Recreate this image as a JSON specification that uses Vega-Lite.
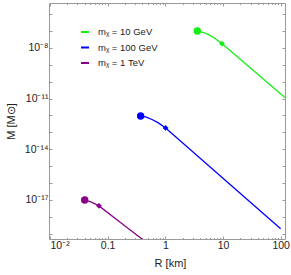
{
  "$schema": "https://vega.github.io/schema/vega-lite/v6.json",
  "width": 236,
  "height": 236,
  "autosize": "none",
  "padding": {"left": 49, "top": 3, "right": 6, "bottom": 36},
  "config": {
    "view": {"stroke": null},
    "font": "Liberation Sans",
    "axis": {
      "grid": false,
      "domainColor": "#9a9a9a",
      "tickColor": "#9a9a9a",
      "tickSize": -3,
      "labelFont": "Liberation Sans",
      "labelFontSize": 10.5,
      "labelColor": "#222222",
      "titleFont": "Liberation Sans",
      "titleFontSize": 11,
      "titleFontWeight": "normal",
      "titleColor": "#222222"
    },
    "legend": {
      "labelFont": "Liberation Sans",
      "labelFontSize": 9.5,
      "labelColor": "#222222"
    }
  },
  "data": {
    "values": [
      {"series": "10 GeV", "kind": "line", "R": 3.589, "M": 9.77e-8},
      {"series": "10 GeV", "kind": "line", "R": 4.467, "M": 8.318e-8},
      {"series": "10 GeV", "kind": "line", "R": 5.623, "M": 6.026e-8},
      {"series": "10 GeV", "kind": "line", "R": 7.079, "M": 3.802e-8},
      {"series": "10 GeV", "kind": "line", "R": 9.572, "M": 1.778e-8},
      {"series": "10 GeV", "kind": "line", "R": 118.9, "M": 1.135e-11},
      {"series": "100 GeV", "kind": "line", "R": 0.3733, "M": 9.33e-13},
      {"series": "100 GeV", "kind": "line", "R": 0.4677, "M": 7.94e-13},
      {"series": "100 GeV", "kind": "line", "R": 0.5888, "M": 5.754e-13},
      {"series": "100 GeV", "kind": "line", "R": 0.7586, "M": 3.631e-13},
      {"series": "100 GeV", "kind": "line", "R": 1.012, "M": 1.82e-13},
      {"series": "100 GeV", "kind": "line", "R": 100, "M": 2.0e-19},
      {"series": "1 TeV", "kind": "line", "R": 0.04, "M": 1.0e-17},
      {"series": "1 TeV", "kind": "line", "R": 0.0525, "M": 7.41e-18},
      {"series": "1 TeV", "kind": "line", "R": 0.0708, "M": 4.47e-18},
      {"series": "1 TeV", "kind": "line", "R": 0.1585, "M": 5.37e-19},
      {"series": "1 TeV", "kind": "line", "R": 0.3936, "M": 4.9e-20},
      {"series": "1 TeV", "kind": "line", "R": 0.501, "M": 2.57e-20},
      {"series": "10 GeV", "kind": "dot", "R": 3.589, "M": 9.77e-8},
      {"series": "10 GeV", "kind": "diamond", "R": 9.572, "M": 1.778e-8},
      {"series": "100 GeV", "kind": "dot", "R": 0.3733, "M": 9.33e-13},
      {"series": "100 GeV", "kind": "diamond", "R": 1.012, "M": 1.82e-13},
      {"series": "1 TeV", "kind": "dot", "R": 0.04, "M": 1.0e-17},
      {"series": "1 TeV", "kind": "diamond", "R": 0.0708, "M": 4.47e-18}
    ]
  },
  "layer": [
    {
      "transform": [{"filter": "datum.kind == 'line'"}],
      "mark": {"type": "line", "strokeWidth": 1.3, "clip": true},
      "encoding": {
        "x": {
          "field": "R", "type": "quantitative",
          "scale": {"type": "log", "domain": [0.00962, 118.9], "nice": false},
          "axis": {
            "orient": "bottom",
            "title": "R [km]",
            "values": [0.01, 0.1, 1, 10, 100],
            "labelExpr": "datum.value < 0.05 ? '10⁻²' : datum.value < 0.5 ? '0.1' : datum.value < 5 ? '1' : datum.value < 50 ? '10' : '100'",
            "labelPadding": 4,
            "titleX": 121,
            "titleY": 24,
            "titleBaseline": "middle"
          }
        },
        "y": {
          "field": "M", "type": "quantitative",
          "scale": {"type": "log", "domain": [4.9e-20, 4.47e-6], "nice": false},
          "axis": {
            "orient": "left",
            "title": "M [M⊙]",
            "values": [1e-19, 1e-18, 1e-17, 1e-16, 1e-15, 1e-14, 1e-13, 1e-12, 1e-11, 1e-10, 1e-9, 1e-8, 1e-7, 1e-6],
            "labelExpr": "datum.value > 5e-9 && datum.value < 5e-8 ? '10⁻⁸' : datum.value > 5e-12 && datum.value < 5e-11 ? '10⁻¹¹' : datum.value > 5e-15 && datum.value < 5e-14 ? '10⁻¹⁴' : datum.value > 5e-18 && datum.value < 5e-17 ? '10⁻¹⁷' : ''",
            "labelPadding": 4,
            "titleX": -38,
            "titleBaseline": "middle"
          }
        },
        "color": {
          "field": "series", "type": "nominal",
          "scale": {"domain": ["10 GeV", "100 GeV", "1 TeV"], "range": ["#11ee11", "#0000ff", "#880088"]},
          "legend": {
            "title": null,
            "orient": "none",
            "legendX": 31,
            "legendY": 24,
            "symbolType": "stroke",
            "symbolSize": 64,
            "symbolStrokeWidth": 2,
            "labelOffset": 8,
            "rowPadding": 5.5,
            "labelExpr": "'mᵪ = ' + datum.label"
          }
        }
      }
    },
    {
      "transform": [{"filter": "datum.kind != 'line'"}],
      "mark": {"type": "point", "filled": true, "opacity": 1},
      "encoding": {
        "x": {
          "field": "R", "type": "quantitative",
          "axis": {"orient": "top", "title": null, "labels": false, "values": [0.01, 0.1, 1, 10, 100]}
        },
        "y": {
          "field": "M", "type": "quantitative",
          "axis": {"orient": "right", "title": null, "labels": false,
            "values": [1e-19, 1e-18, 1e-17, 1e-16, 1e-15, 1e-14, 1e-13, 1e-12, 1e-11, 1e-10, 1e-9, 1e-8, 1e-7, 1e-6]}
        },
        "color": {"field": "series", "type": "nominal", "legend": null},
        "shape": {"field": "kind", "type": "nominal", "scale": {"domain": ["dot", "diamond"], "range": ["circle", "diamond"]}, "legend": null},
        "size": {"field": "kind", "type": "nominal", "scale": {"domain": ["dot", "diamond"], "range": [55, 34]}, "legend": null}
      }
    },
    {
      "transform": [{"filter": "datum.kind == 'dot'"}],
      "mark": {"type": "point", "opacity": 0},
      "encoding": {
        "x": {
          "field": "R", "type": "quantitative",
          "axis": {"orient": "bottom", "title": null, "labels": false, "tickSize": -1.5, "domain": false,
            "values": [0.02, 0.03, 0.04, 0.05, 0.06, 0.07, 0.08, 0.09, 0.2, 0.3, 0.4, 0.5, 0.6, 0.7, 0.8, 0.9, 2, 3, 4, 5, 6, 7, 8, 9, 20, 30, 40, 50, 60, 70, 80, 90]}
        },
        "y": {"field": "M", "type": "quantitative", "axis": null}
      }
    },
    {
      "transform": [{"filter": "datum.kind == 'dot'"}],
      "mark": {"type": "point", "opacity": 0},
      "encoding": {
        "x": {
          "field": "R", "type": "quantitative",
          "axis": {"orient": "top", "title": null, "labels": false, "tickSize": -1.5, "domain": false,
            "values": [0.02, 0.03, 0.04, 0.05, 0.06, 0.07, 0.08, 0.09, 0.2, 0.3, 0.4, 0.5, 0.6, 0.7, 0.8, 0.9, 2, 3, 4, 5, 6, 7, 8, 9, 20, 30, 40, 50, 60, 70, 80, 90]}
        },
        "y": {"field": "M", "type": "quantitative", "axis": null}
      }
    }
  ],
  "resolve": {"axis": {"x": "independent", "y": "independent"}}
}
